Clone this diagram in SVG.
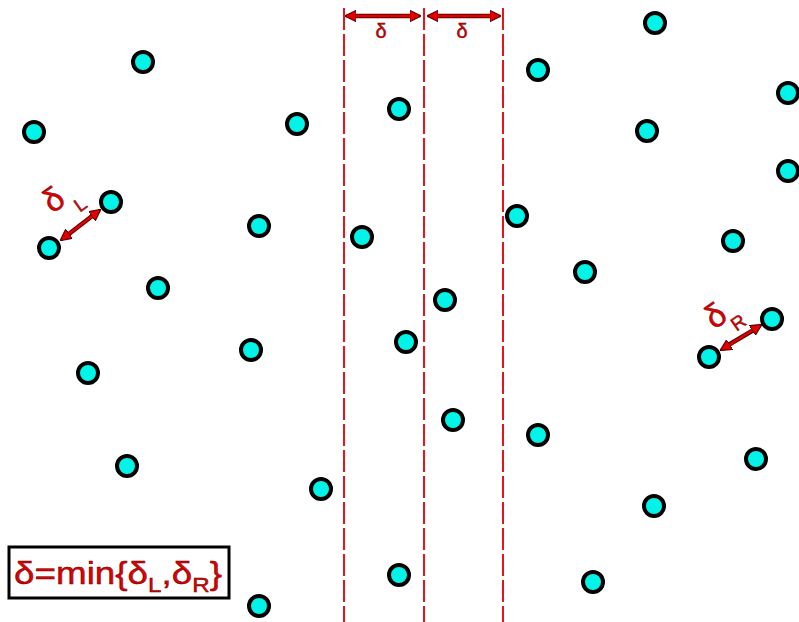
<svg xmlns="http://www.w3.org/2000/svg" width="799" height="622" viewBox="0 0 799 622">
<style>
.pt{fill:#00f5e8;stroke:#000;stroke-width:4}
.vl{stroke:#e8141c;stroke-width:2;stroke-dasharray:22 4;fill:none}
.ao{stroke:#5a0000;stroke-width:4.5;fill:none}
.ai{stroke:#e00000;stroke-width:2.5;fill:none}
.lbl{font-family:"Liberation Sans",Arial,sans-serif;fill:#e00000;stroke:#600000;stroke-width:0.45}
</style>
<defs>
<marker id="ah" viewBox="0 0 10 10" refX="9" refY="5" markerWidth="4.6" markerHeight="4.6" markerUnits="strokeWidth" orient="auto-start-reverse">
<path d="M0,0 L10,5 L0,10 Z" fill="#e00000" stroke="#5a0000" stroke-width="1"/>
</marker>
</defs>
<g id="connectors">
<line class="vl" x1="344" y1="8" x2="344" y2="622"/>
<line class="vl" x1="424" y1="8" x2="424" y2="622"/>
<line class="vl" x1="503" y1="8" x2="503" y2="622"/>
<line class="ao" x1="350" y1="16" x2="416" y2="16"/>
<line class="ai" x1="346" y1="16" x2="420" y2="16" marker-start="url(#ah)" marker-end="url(#ah)"/>
<line class="ao" x1="432" y1="16" x2="496" y2="16"/>
<line class="ai" x1="428" y1="16" x2="500" y2="16" marker-start="url(#ah)" marker-end="url(#ah)"/>
<line class="ao" x1="65" y1="237" x2="96" y2="213"/>
<line class="ai" x1="61" y1="240" x2="100" y2="210" marker-start="url(#ah)" marker-end="url(#ah)"/>
<line class="ao" x1="725" y1="347" x2="757" y2="328"/>
<line class="ai" x1="721" y1="350" x2="761" y2="325" marker-start="url(#ah)" marker-end="url(#ah)"/>
</g>
<g id="labels">
<text class="lbl" x="381" y="38" font-size="20" text-anchor="middle">δ</text>
<text class="lbl" x="462" y="38" font-size="20" text-anchor="middle">δ</text>
<g id="deltaL">
<text class="lbl" transform="translate(53,199) rotate(-35)" x="0" y="12" font-size="33" text-anchor="middle">δ</text>
<text class="lbl" transform="translate(80,204) rotate(-35)" x="0" y="7" font-size="19" text-anchor="middle">L</text>
</g>
<g id="deltaR">
<text class="lbl" transform="translate(715,315) rotate(-35)" x="0" y="12" font-size="33" text-anchor="middle">δ</text>
<text class="lbl" transform="translate(738,322) rotate(-35)" x="0" y="7" font-size="19" text-anchor="middle">R</text>
</g>
</g>
<g id="formula">
<rect x="9" y="547" width="220" height="51" fill="#fff" stroke="#000" stroke-width="3"/>
<text class="lbl" x="14" y="584" font-size="32" textLength="208" lengthAdjust="spacingAndGlyphs">δ=min{δ<tspan font-size="21" dy="8">L</tspan><tspan dy="-8">,δ</tspan><tspan font-size="21" dy="8">R</tspan><tspan dy="-8">}</tspan></text>
</g>
<g id="points">
<circle id="p1" class="pt" cx="143" cy="62" r="10"/>
<circle id="p2" class="pt" cx="34" cy="132" r="10"/>
<circle id="p3" class="pt" cx="111" cy="202" r="10"/>
<circle id="p4" class="pt" cx="49" cy="248" r="10"/>
<circle id="p5" class="pt" cx="158" cy="288" r="10"/>
<circle id="p6" class="pt" cx="88" cy="373" r="10"/>
<circle id="p7" class="pt" cx="127" cy="466" r="10"/>
<circle id="p8" class="pt" cx="259" cy="606" r="10"/>
<circle id="p9" class="pt" cx="297" cy="124" r="10"/>
<circle id="p10" class="pt" cx="259" cy="226" r="10"/>
<circle id="p11" class="pt" cx="251" cy="350" r="10"/>
<circle id="p12" class="pt" cx="321" cy="489" r="10"/>
<circle id="p13" class="pt" cx="399" cy="109" r="10"/>
<circle id="p14" class="pt" cx="362" cy="237" r="10"/>
<circle id="p15" class="pt" cx="445" cy="300" r="10"/>
<circle id="p16" class="pt" cx="406" cy="342" r="10"/>
<circle id="p17" class="pt" cx="453" cy="420" r="10"/>
<circle id="p18" class="pt" cx="399" cy="575" r="10"/>
<circle id="p19" class="pt" cx="538" cy="70" r="10"/>
<circle id="p20" class="pt" cx="655" cy="23" r="10"/>
<circle id="p21" class="pt" cx="647" cy="131" r="10"/>
<circle id="p22" class="pt" cx="788" cy="93" r="10"/>
<circle id="p23" class="pt" cx="788" cy="171" r="10"/>
<circle id="p24" class="pt" cx="517" cy="216" r="10"/>
<circle id="p25" class="pt" cx="585" cy="272" r="10"/>
<circle id="p26" class="pt" cx="733" cy="241" r="10"/>
<circle id="p27" class="pt" cx="772" cy="319" r="10"/>
<circle id="p28" class="pt" cx="709" cy="357" r="10"/>
<circle id="p29" class="pt" cx="538" cy="435" r="10"/>
<circle id="p30" class="pt" cx="756" cy="459" r="10"/>
<circle id="p31" class="pt" cx="654" cy="506" r="10"/>
<circle id="p32" class="pt" cx="593" cy="582" r="10"/>
</g>
</svg>
